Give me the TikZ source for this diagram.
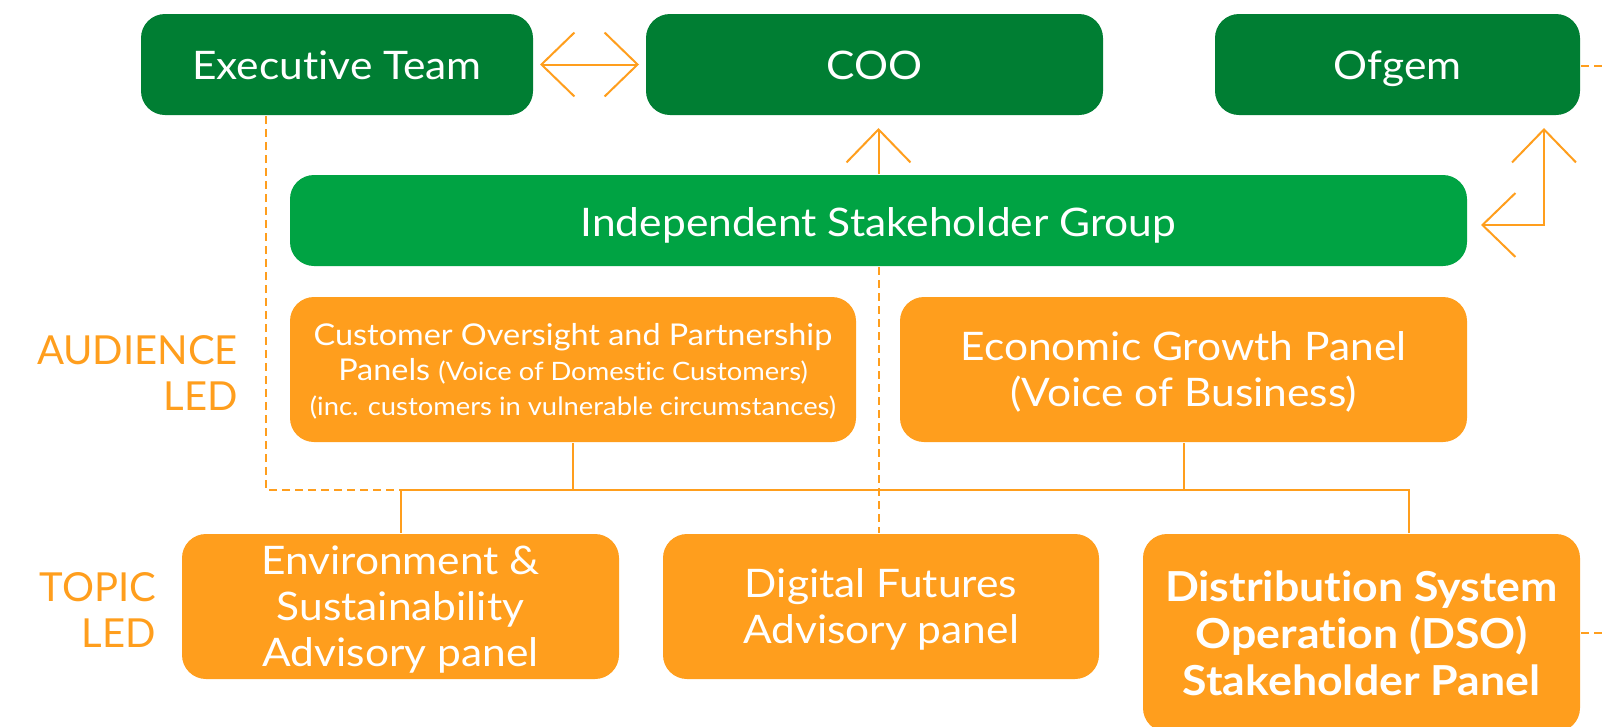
\documentclass[tikz,border=0pt]{standalone}
\usepackage{fontspec}
\setmainfont[FakeStretch=1.08, Ligatures={NoCommon}]{Lato}
\newfontfamily\labelfont[Ligatures={NoCommon}]{Lato}
\usetikzlibrary{arrows.meta}
\definecolor{darkgreen}{RGB}{0,126,51}
\definecolor{isggreen}{RGB}{0,163,67}
\definecolor{panelorange}{RGB}{255,158,29}
\newcommand{\smallpart}[1]{{\fontsize{19}{26.25}\selectfont #1}}
\tikzset{every picture/.style={line width=1.5pt}}
\tikzset{
  topbox/.style={fill=darkgreen, text=white, rounded corners=18pt, minimum height=75.75pt, inner sep=0pt, text height=23pt, text depth=0pt, font=\fontsize{29.5}{34.5}\selectfont},
  panelbox/.style={fill=panelorange, text=white, rounded corners=18pt, minimum height=108.75pt, inner sep=0pt, align=center, text depth=-1.5pt, font=\fontsize{29.5}{34.5}\selectfont},
  sidelabel/.style={text=panelorange, anchor=east, align=right, inner sep=0pt, font=\labelfont\fontsize{30}{34.5}\selectfont},
  link/.style={draw=panelorange},
  dashlink/.style={draw=panelorange, dash pattern=on 6pt off 3.75pt},
  bigarrow/.style={draw=panelorange, >={Straight Barb[length=24.75pt, width=48pt, line width=1.5pt]}}
}

\begin{document}
\begin{tikzpicture}[x=0.75pt,y=0.75pt,yscale=-1,xscale=1]
\useasboundingbox (0,0) rectangle (1606,726);

%Rounded Rect: top row
\node[topbox, minimum width=294pt] (exec) at (337,64.5) {Executive Team};
\node[topbox, minimum width=342.75pt] (coo) at (874.5,64.5) {COO};
\node[topbox, minimum width=273.75pt] (ofgem) at (1397.5,64.5) {Ofgem};
%Rounded Rect: stakeholder group
\node[topbox, fill=isggreen, minimum width=882.75pt, minimum height=68.25pt, text height=24.5pt] (isg) at (878.5,220.5) {Independent Stakeholder Group};
%Rounded Rect: audience led
\node[panelbox, minimum width=424.5pt, text depth=-3pt, font=\fontsize{22.5}{26.25}\selectfont] (cust) at (573,369.5) {Customer Oversight and Partnership\\Panels \smallpart{(Voice of Domestic Customers)}\\\smallpart{(inc. customers in vulnerable circumstances)}};
\node[panelbox, minimum width=425.25pt, text depth=-5pt] (econ) at (1183.5,369.5) {Economic Growth Panel\\(Voice of Business)};
%Rounded Rect: topic led
\node[panelbox, minimum width=327.75pt] (env) at (400.5,606.5) {Environment \&\\Sustainability\\Advisory panel};
\node[panelbox, minimum width=327pt, text depth=-9pt] (digital) at (881,606.5) {Digital Futures\\Advisory panel};
\node[panelbox, minimum width=327.75pt, minimum height=148.5pt, text depth=0pt, font=\bfseries\fontsize{31}{35}\selectfont] (dso) at (1361.5,633) {Distribution System\\Operation (DSO)\\Stakeholder Panel};

% Text Node
\node[sidelabel] (audience) at (239,373) {AUDIENCE\\LED};
% Text Node
\node[sidelabel] (topic) at (157,609.5) {TOPIC\\LED};

%Turning points
\coordinate (bus) at (1409,490);
\coordinate (execturn) at (266,490);
\coordinate (elbow) at (1544,225);
\coordinate (ofgemout) at (1606,66);
\coordinate (dsoout) at (1606,633);

%Straight Lines: tree
\draw[link] (bus |- dso.north) -- (bus) -- (env.north |- bus) -- (env.north);
\draw[link] (cust.south) -- (cust.south |- bus);
\draw[link] (econ.south) -- (econ.south |- bus);
%Dashed Lines
\draw[dashlink] (execturn |- exec.south) -- (execturn) -- (env.north |- bus);
\draw[dashlink] (isg.south) -- (isg.south |- digital.north);
\draw[dashlink] (ofgem.east |- ofgemout) -- (ofgemout);
\draw[dashlink] (dso.east) -- (dsoout);
%Arrows
\draw[bigarrow, <->, shorten <=4.5pt, shorten >=4.5pt] (exec) -- (coo);
\draw[bigarrow, ->, shorten >=9pt] (isg.north) -- (isg.north |- coo.south);
\draw[bigarrow, <->, shorten <=9.75pt, shorten >=9pt] (elbow -| isg.east) -- (elbow) -- (elbow |- ofgem.south);

\end{tikzpicture}
\end{document}
